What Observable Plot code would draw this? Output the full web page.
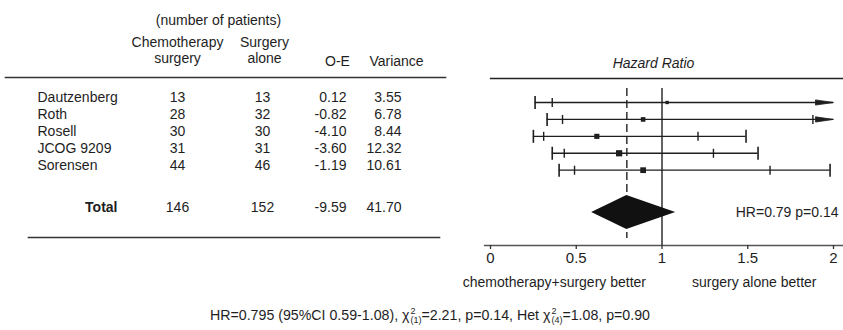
<!DOCTYPE html>
<html>
<head>
<meta charset="utf-8">
<script src="https://cdn.jsdelivr.net/npm/d3@7"></script>
<script src="https://cdn.jsdelivr.net/npm/@observablehq/plot@0.6"></script>
<style>
  html, body { margin: 0; padding: 0; background: #fff; }
  #wrap { width: 843px; font-family: "Liberation Sans", Arial, sans-serif; color: #1e1e1e; }
  #caption { height: 30px; line-height: 30px; font-size: 14.2px; text-align: center; padding-left: 17px; box-sizing: border-box; white-space: nowrap; }
  .ss { display: inline-block; vertical-align: middle; font-size: 9px; line-height: 9px; text-align: left; margin-left: 1px; }
  .ss span { display: block; }
</style>
</head>
<body>
<div id="wrap">
  <div id="chart"></div>
  <div id="caption"></div>
</div>
<script>
// ---- data ----
const studies   = ["Dautzenberg", "Roth", "Rosell", "JCOG 9209", "Sorensen"];
const chemoN    = [13, 28, 30, 31, 44];
const surgeryN  = [13, 32, 30, 31, 46];
const oeValues  = [0.12, -0.82, -4.10, -3.60, -1.19];
const variances = [3.55, 6.78, 8.44, 12.32, 10.61];
const hazard    = [1.03, 0.89, 0.62, 0.75, 0.89];
const lo95      = [0.36, 0.42, 0.31, 0.43, 0.49];
const hi95      = [2.92, 1.88, 1.21, 1.30, 1.63];
const lo99      = [0.26, 0.33, 0.25, 0.36, 0.40];
const hi99      = [4.05, 2.38, 1.49, 1.56, 1.98];

const totalChemo = 146, totalSurgery = 152, totalOE = -9.59, totalVar = 41.70;
const totalHR = 0.795, totalLo = 0.59, totalHi = 1.08;
const totalLabel = "HR=0.79 p=0.14";

const xTicks = [0, 0.5, 1, 1.5, 2];
const headerTitle = "(number of patients)";
const chemoHeader = ["Chemotherapy", "surgery"];
const surgeryHeader = ["Surgery", "alone"];
const oeHeader = "O-E";
const varHeader = "Variance";
const favourLabels = ["chemotherapy+surgery better", "surgery alone better"];
const axisTitle = "Hazard Ratio";

// ---- build table ----
const rows = studies.map((s, i) => ({
  i, study: s, chemo: chemoN[i], surgery: surgeryN[i], oe: oeValues[i], v: variances[i],
  hr: hazard[i], lo95: lo95[i], hi95: hi95[i], lo99: lo99[i], hi99: hi99[i]
}));
const xMax = xTicks[xTicks.length - 1];
const totalY = studies.length + 1.5;
const total = [{y: totalY, chemo: totalChemo, surgery: totalSurgery, oe: totalOE, v: totalVar}];
const diamond = [
  {x: totalLo, y1: totalY, y2: totalY},
  {x: totalHR, y1: totalY - 1, y2: totalY + 1},
  {x: totalHi, y1: totalY, y2: totalY}
];

const ink = "#1e1e1e";
const capBig = {draw(ctx) { ctx.moveTo(0, -6.5); ctx.lineTo(0, 6.5); }};
const capSmall = {draw(ctx) { ctx.moveTo(0, -4.5); ctx.lineTo(0, 4.5); }};
const arrowHead = {draw(ctx) { ctx.moveTo(0, 0); ctx.lineTo(-18, -2.6); ctx.lineTo(-18, 2.6); ctx.closePath(); }};

const fmt2 = d => d.toFixed(2);
const colText = (data, field, dx, anchor, extra = {}) => Plot.text(data, {
  y: data === total ? "y" : "i",
  text: d => (field === "oe" || field === "v") ? fmt2(d[field]) : d[field],
  frameAnchor: "left", dx, dy: -5, textAnchor: anchor, ...extra
});
const headText = (label, dx, dy) => Plot.text([label], {
  frameAnchor: "top-left", dx, dy, lineAnchor: "middle", textAnchor: "middle"
});

const chart = Plot.plot({
  width: 843,
  height: 300,
  marginTop: 0, marginLeft: 0, marginRight: 0, marginBottom: 55,
  x: {domain: [0, xMax], range: [490, 833], axis: null},
  y: {domain: [0, totalY], range: [102, 212], axis: null},
  r: {range: [0, 3.5]},
  style: {fontFamily: "'Liberation Sans', Arial, sans-serif", fontSize: "14px", color: ink, background: "#fff"},
  marks: [
    // table header
    headText(headerTitle, 218, 20),
    headText(chemoHeader[0], 177, 42),
    headText(chemoHeader[1], 177, 58),
    headText(surgeryHeader[0], 264, 42),
    headText(surgeryHeader[1], 264, 58),
    headText(oeHeader, 337, 61),
    headText(varHeader, 396, 61),
    Plot.frame({anchor: "top", insetTop: 77, insetLeft: 5, insetRight: 398, stroke: "#333", strokeWidth: 1.6}),
    Plot.frame({anchor: "top", insetTop: 237, insetLeft: 28, insetRight: 404, stroke: "#333", strokeWidth: 1.6}),
    // table body
    colText(rows, "study", 37, "start"),
    colText(rows, "chemo", 177, "middle"),
    colText(rows, "surgery", 262, "middle"),
    colText(rows, "oe", 346, "end"),
    colText(rows, "v", 401, "end"),
    Plot.text(total, {y: "y", text: () => "Total", frameAnchor: "left", dx: 117, dy: -5, textAnchor: "end", fontWeight: "bold"}),
    colText(total, "chemo", 177, "middle"),
    colText(total, "surgery", 262, "middle"),
    colText(total, "oe", 346, "end"),
    colText(total, "v", 401, "end"),
    // forest header + axis line
    Plot.text([axisTitle], {frameAnchor: "top-left", dx: 653, dy: 63, lineAnchor: "middle", textAnchor: "middle", fontStyle: "italic"}),
    Plot.frame({anchor: "top", insetTop: 78, insetLeft: 490, stroke: "#222", strokeWidth: 1.3}),
    Plot.frame({anchor: "bottom", insetLeft: 484, stroke: "#555", strokeWidth: 1.3}),
    Plot.axisX({ticks: xTicks, tickFormat: d => String(d), tickSize: 4, tickPadding: 3, fontSize: 15, stroke: "#333", strokeWidth: 1.3}),
    // reference lines
    Plot.ruleX([1], {insetTop: 88, stroke: "#222", strokeWidth: 1.4}),
    Plot.ruleX([totalHR], {insetTop: 88, insetBottom: 7, stroke: "#222", strokeWidth: 1.4, strokeDasharray: "8,4"}),
    // study CIs
    Plot.ruleY(rows, {y: "i", x1: "lo99", x2: d => Math.min(d.hi99, xMax), stroke: ink, strokeWidth: 1.3}),
    Plot.dot(rows, {x: "lo99", y: "i", symbol: capBig, stroke: ink, fill: "none", strokeWidth: 1.6}),
    Plot.dot(rows.filter(d => d.hi99 <= xMax), {x: "hi99", y: "i", symbol: capBig, stroke: ink, fill: "none", strokeWidth: 1.6}),
    Plot.dot(rows, {x: "lo95", y: "i", symbol: capSmall, stroke: ink, fill: "none", strokeWidth: 1.4}),
    Plot.dot(rows.filter(d => d.hi95 <= xMax), {x: "hi95", y: "i", symbol: capSmall, stroke: ink, fill: "none", strokeWidth: 1.4}),
    Plot.dot(rows.filter(d => d.hi99 > xMax), {x: () => xMax, y: "i", symbol: arrowHead, fill: ink, stroke: ink, strokeWidth: 0.8}),
    Plot.dot(rows, {x: "hr", y: "i", r: "v", symbol: "square", fill: ink, stroke: "none"}),
    // pooled estimate
    Plot.area(diamond, {x1: "x", y1: "y1", y2: "y2", fill: "#111", curve: "linear"}),
    Plot.text([totalLabel], {y: () => totalY, frameAnchor: "right", dx: -5, textAnchor: "end"}),
    // direction labels
    Plot.text([favourLabels[0]], {x: () => 1, frameAnchor: "bottom", dy: 37, dx: -16, textAnchor: "end", lineAnchor: "middle"}),
    Plot.text([favourLabels[1]], {x: () => 1, frameAnchor: "bottom", dy: 37, dx: 30, textAnchor: "start", lineAnchor: "middle"})
  ]
});
document.getElementById("chart").appendChild(chart);

document.getElementById("caption").innerHTML =
  `HR=${totalHR} (95%CI ${totalLo.toFixed(2)}-${totalHi.toFixed(2)}), χ<span class="ss"><span>2</span><span>(1)</span></span>=2.21, p=0.14, Het χ<span class="ss"><span>2</span><span>(4)</span></span>=1.08, p=0.90`;
</script>
</body>
</html>
